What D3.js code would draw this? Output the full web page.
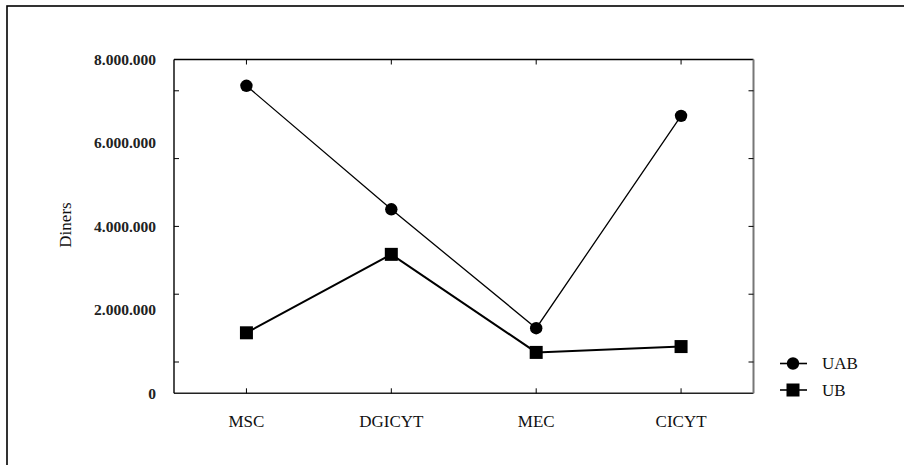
<!DOCTYPE html>
<html><head><meta charset="utf-8">
<script src="https://cdn.jsdelivr.net/npm/d3@7"></script>
<style>body{margin:0;background:#fff}svg{display:block}</style>
</head><body>
<svg id="c" width="904" height="465"></svg>
<script>
const categories = ["MSC", "DGICYT", "MEC", "CICYT"];
const seriesNames = ["UAB", "UB"];
const uabValues = [7370000, 4410000, 1560000, 6650000];
const ubValues = [1450000, 3330000, 980000, 1120000];
const yLabelValues = [0, 2000000, 4000000, 6000000, 8000000];
const yTickValues = [750000, 2375000, 4000000, 5625000, 7250000];
const yTitle = "Diners";

const svg = d3.select("#c");
const W = 904, H = 465;
const m = {left: 174, right: 753.5, top: 59.5, bottom: 393.3};
const serif = "'Liberation Serif','Times New Roman',serif";

// outer frame
svg.append("rect").attr("x", 7).attr("y", 6).attr("width", W).attr("height", H)
  .attr("fill", "none").attr("stroke", "#000").attr("stroke-width", 1.6);

const x = d3.scaleBand().domain(categories).range([m.left, m.right]);
const cx = d => x(d) + x.bandwidth() / 2;
const y = d3.scaleLinear().domain([0, 8000000]).range([m.bottom, m.top]);

// plot borders
const g = svg.append("g");
g.append("line").attr("x1", m.left).attr("x2", m.right).attr("y1", m.top).attr("y2", m.top).attr("stroke", "#000").attr("stroke-width", 1.4);
g.append("line").attr("x1", m.left).attr("x2", m.right).attr("y1", m.bottom).attr("y2", m.bottom).attr("stroke", "#222").attr("stroke-width", 1.4);
g.append("line").attr("x1", m.left).attr("x2", m.left).attr("y1", m.top).attr("y2", m.bottom).attr("stroke", "#000").attr("stroke-width", 1.4);
g.append("line").attr("x1", m.right).attr("x2", m.right).attr("y1", m.top).attr("y2", m.bottom).attr("stroke", "#777").attr("stroke-width", 2);

// y ticks (inward, both sides)
yTickValues.forEach(v => {
  g.append("line").attr("x1", m.left).attr("x2", m.left + 5).attr("y1", y(v)).attr("y2", y(v)).attr("stroke", "#000").attr("stroke-width", 1);
  g.append("line").attr("x1", m.right - 5).attr("x2", m.right).attr("y1", y(v)).attr("y2", y(v)).attr("stroke", "#000").attr("stroke-width", 1);
});
// x ticks (inward, top & bottom)
categories.forEach(c => {
  g.append("line").attr("x1", cx(c)).attr("x2", cx(c)).attr("y1", m.bottom).attr("y2", m.bottom - 5).attr("stroke", "#000").attr("stroke-width", 1);
  g.append("line").attr("x1", cx(c)).attr("x2", cx(c)).attr("y1", m.top).attr("y2", m.top + 5).attr("stroke", "#000").attr("stroke-width", 1);
});

// y labels
const fmt = v => d3.format(",")(v).replace(/,/g, ".");
svg.selectAll(".yl").data(yLabelValues).enter().append("text")
  .attr("x", 156).attr("y", d => y(d)).attr("dy", "0.35em")
  .attr("text-anchor", "end").attr("font-family", serif).attr("font-weight", "bold")
  .attr("font-size", 15.5).attr("fill", "#222").text(fmt);

// x labels
svg.selectAll(".xl").data(categories).enter().append("text")
  .attr("x", d => cx(d)).attr("y", 427).attr("text-anchor", "middle")
  .attr("font-family", serif).attr("font-size", 17).attr("fill", "#111").text(d => d);

// y title
svg.append("text").attr("transform", "translate(71,225) rotate(-90)")
  .attr("text-anchor", "middle").attr("font-family", serif).attr("font-size", 17)
  .attr("fill", "#111").text(yTitle);

// lines
const line = d3.line().x((d, i) => cx(categories[i])).y(d => y(d));
svg.append("path").attr("d", line(uabValues)).attr("fill", "none").attr("stroke", "#000").attr("stroke-width", 1.3);
svg.append("path").attr("d", line(ubValues)).attr("fill", "none").attr("stroke", "#000").attr("stroke-width", 2);

svg.selectAll(".uab").data(uabValues).enter().append("circle")
  .attr("cx", (d, i) => cx(categories[i])).attr("cy", d => y(d)).attr("r", 6.2).attr("fill", "#000");
svg.selectAll(".ub").data(ubValues).enter().append("rect")
  .attr("x", (d, i) => cx(categories[i]) - 6.5).attr("y", d => y(d) - 6.5)
  .attr("width", 13).attr("height", 13).attr("fill", "#000");

// legend
const lg = svg.append("g");
seriesNames.forEach((s, i) => {
  const ly = 363.5 + i * 26.5;
  lg.append("line").attr("x1", 780).attr("x2", 807).attr("y1", ly).attr("y2", ly).attr("stroke", "#000").attr("stroke-width", 1.6);
  if (i === 0) lg.append("circle").attr("cx", 793).attr("cy", ly).attr("r", 6.2).attr("fill", "#000");
  else lg.append("rect").attr("x", 793 - 6.5).attr("y", ly - 6.5).attr("width", 13).attr("height", 13).attr("fill", "#000");
  lg.append("text").attr("x", 822).attr("y", ly).attr("dy", "0.35em")
    .attr("font-family", serif).attr("font-size", 17).attr("fill", "#111").text(s);
});
</script>
</body></html>
